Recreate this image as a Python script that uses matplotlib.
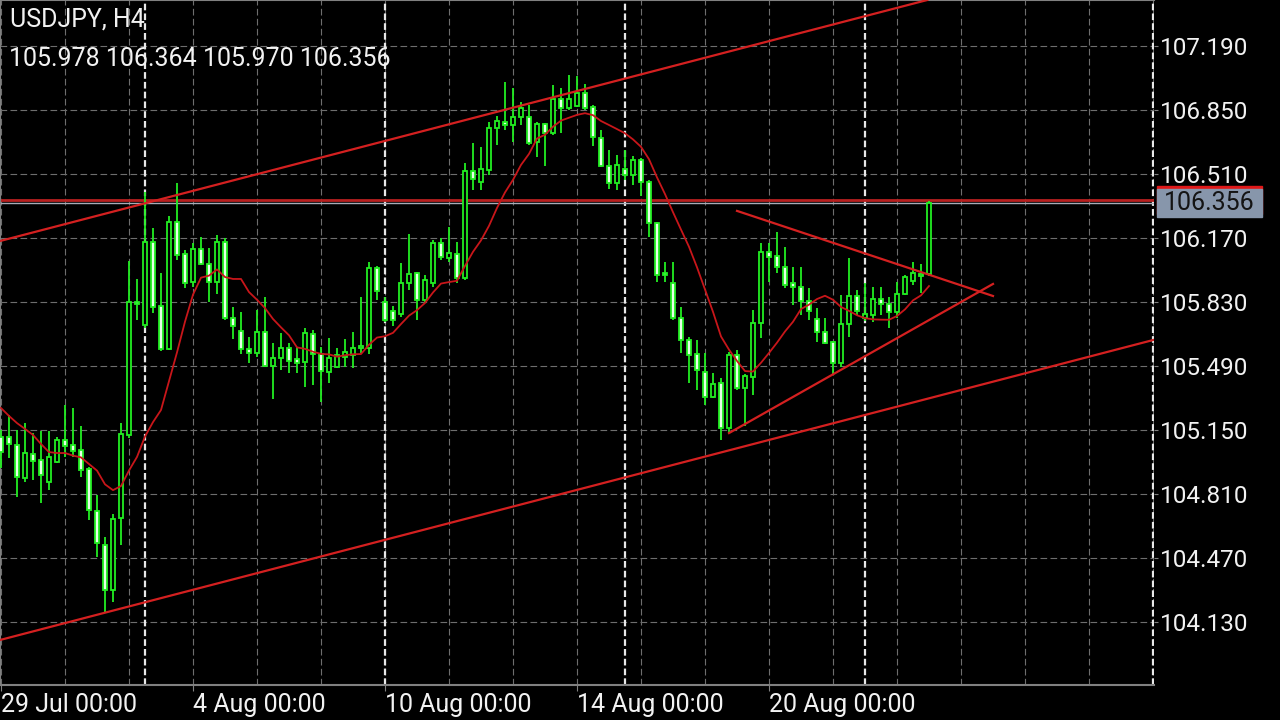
import numpy as np
import pandas as pd
import matplotlib
matplotlib.use('Agg')
import matplotlib.pyplot as plt
from matplotlib.patches import Rectangle
from matplotlib.transforms import blended_transform_factory

plt.rcParams['font.family'] = ['Roboto', 'DejaVu Sans']

#===============================================================================
# Data (USDJPY H4, first bar = 29 Jul 00:00)

symbol = 'USDJPY, H4'

opens = [105.113, 105.113, 105.071, 104.895, 105.023, 104.991, 104.874, 104.980, 105.097, 105.071,
         105.044, 104.943, 104.720, 104.539, 104.300, 104.683, 105.124, 105.830, 105.708, 106.149,
         105.809, 105.581, 106.255, 106.085, 105.937, 106.112, 106.032, 105.937, 106.149, 105.745,
         105.676, 105.581, 105.559, 105.671, 105.490, 105.533, 105.586, 105.527, 105.511, 105.660,
         105.554, 105.458, 105.485, 105.538, 105.549, 105.586, 105.586, 106.011, 105.830, 105.782,
         105.766, 105.931, 105.984, 105.841, 105.931, 106.143, 106.064, 106.085, 105.958, 106.526,
         106.467, 106.531, 106.754, 106.786, 106.770, 106.813, 106.813, 106.680, 106.775, 106.728,
         106.908, 106.861, 106.871, 106.940, 106.866, 106.701, 106.552, 106.462, 106.536, 106.505,
         106.584, 106.467, 106.250, 105.984, 105.931, 105.745, 105.628, 105.554, 105.458, 105.326,
         105.400, 105.161, 105.549, 105.373, 105.432, 105.719, 106.096, 106.074, 106.016, 105.931,
         105.910, 105.836, 105.740, 105.671, 105.618, 105.506, 105.713, 105.862, 105.745, 105.761,
         105.846, 105.820, 105.777, 105.873, 105.942, 105.968, 105.978]
highs = [105.150, 105.230, 105.150, 105.187, 105.134, 105.145, 105.145, 105.113, 105.283, 105.267,
         105.172, 104.954, 104.805, 104.582, 104.704, 105.187, 106.048, 105.952, 106.415, 106.223,
         105.985, 106.287, 106.462, 106.106, 106.143, 106.175, 106.117, 106.186, 106.170, 105.804,
         105.777, 105.645, 105.788, 105.857, 105.612, 105.665, 105.612, 105.591, 105.692, 105.681,
         105.591, 105.639, 105.586, 105.634, 105.671, 105.857, 106.042, 106.021, 105.857, 105.809,
         106.037, 106.191, 105.990, 105.974, 106.159, 106.170, 106.228, 106.149, 106.568, 106.674,
         106.653, 106.786, 106.818, 106.998, 106.966, 106.892, 106.877, 106.786, 106.781, 106.983,
         106.966, 107.036, 107.030, 106.988, 106.877, 106.743, 106.637, 106.611, 106.637, 106.605,
         106.595, 106.478, 106.255, 106.042, 106.042, 105.804, 105.644, 105.628, 105.559, 105.453,
         105.427, 105.565, 105.575, 105.448, 105.788, 106.143, 106.143, 106.202, 106.122, 106.016,
         106.016, 105.905, 105.798, 105.745, 105.623, 105.867, 106.064, 105.894, 105.931, 105.910,
         105.910, 105.857, 105.937, 105.974, 106.042, 106.032, 106.364]
lows = [104.948, 105.002, 104.794, 104.874, 104.885, 104.762, 104.832, 104.975, 105.007, 105.007,
        104.901, 104.672, 104.476, 104.183, 104.236, 104.539, 105.108, 105.735, 105.692, 105.772,
        105.570, 105.575, 106.053, 105.905, 105.910, 106.027, 105.830, 105.873, 105.735, 105.634,
        105.554, 105.506, 105.538, 105.485, 105.315, 105.469, 105.453, 105.453, 105.379, 105.389,
        105.299, 105.400, 105.480, 105.485, 105.480, 105.559, 105.554, 105.841, 105.724, 105.703,
        105.750, 105.894, 105.735, 105.825, 105.910, 106.053, 106.042, 105.931, 105.947, 106.425,
        106.425, 106.505, 106.664, 106.743, 106.680, 106.770, 106.664, 106.600, 106.552, 106.717,
        106.728, 106.850, 106.866, 106.850, 106.658, 106.547, 106.430, 106.425, 106.478, 106.452,
        106.393, 106.176, 105.937, 105.937, 105.735, 105.559, 105.400, 105.363, 105.283, 105.320,
        105.097, 105.134, 105.363, 105.172, 105.336, 105.639, 105.937, 105.984, 105.905, 105.814,
        105.761, 105.735, 105.618, 105.607, 105.442, 105.485, 105.644, 105.761, 105.729, 105.724,
        105.761, 105.692, 105.745, 105.868, 105.921, 105.878, 105.970]
closes = [105.033, 105.076, 104.901, 105.028, 104.986, 104.911, 105.007, 105.097, 105.065, 105.039,
          104.938, 104.725, 104.550, 104.300, 104.677, 105.129, 105.830, 105.820, 106.149, 105.804,
          105.581, 106.255, 106.080, 105.931, 106.112, 106.032, 105.937, 106.149, 105.745, 105.703,
          105.581, 105.559, 105.671, 105.490, 105.533, 105.586, 105.517, 105.506, 105.666, 105.554,
          105.464, 105.533, 105.549, 105.565, 105.586, 105.596, 106.011, 105.889, 105.735, 105.735,
          105.931, 105.979, 105.841, 105.947, 106.143, 106.069, 106.090, 105.958, 106.526, 106.483,
          106.536, 106.754, 106.791, 106.770, 106.813, 106.861, 106.674, 106.775, 106.728, 106.908,
          106.861, 106.908, 106.940, 106.861, 106.706, 106.552, 106.462, 106.558, 106.505, 106.584,
          106.467, 106.250, 105.974, 105.974, 105.745, 105.628, 105.549, 105.469, 105.326, 105.395,
          105.161, 105.549, 105.373, 105.437, 105.719, 106.096, 106.069, 106.016, 105.921, 105.910,
          105.836, 105.783, 105.671, 105.612, 105.506, 105.713, 105.862, 105.783, 105.767, 105.846,
          105.820, 105.777, 105.873, 105.963, 105.984, 105.979, 106.356]

# MA(10) values of the first bars (their earlier closes are off screen)
ma_head = [105.267, 105.225, 105.187, 105.156, 105.124, 105.076, 105.033, 105.028, 105.028]
ma_period = 10

ask = 106.372

price_ticks = [104.130, 104.470, 104.810, 105.150, 105.490, 105.830, 106.170, 106.510, 106.850, 107.190]
date_ticks = [0, 24, 48, 72, 96]
date_labels = ['29 Jul 00:00', '4 Aug 00:00', '10 Aug 00:00', '14 Aug 00:00', '20 Aug 00:00']
week_seps = [18, 48, 78, 108]

# hand drawn trend lines: (bar, price) pairs
channel_top = [(-0.125, 106.154), (114.875, 107.424)]
channel_bottom = [(-0.125, 104.035), (144, 105.628)]
tri_top = [(92, 106.314), (124, 105.862)]
tri_bottom = [(91, 105.134), (124, 105.926)]

#===============================================================================
# Plot

green = '#22ee22'
bear_fill = '#e8ffe8'
grid_c = '#6e6e6e'
red = '#d42020'

o = np.array(opens); h = np.array(highs); l = np.array(lows); c = np.array(closes)
x = np.arange(len(c))

ma = pd.Series(c).rolling(ma_period).mean().values
ma[:ma_period - 1] = ma_head

fig = plt.figure(figsize=(12.8, 7.2), dpi=100, facecolor='black')
ax = fig.add_axes([0, 1 - 685 / 720, 1154 / 1280, 685 / 720])
ax.set_facecolor('black')
ax.set_xlim(-0.125, 144.125)
ax.set_ylim(103.796, 107.434)

# grid
for xg in range(0, 145, 8):
    ax.axvline(xg, color=grid_c, lw=0.8, ls=(0, (6, 3)), zorder=1)
for yt in price_ticks:
    ax.axhline(yt, color=grid_c, lw=0.8, ls=(0, (6, 3)), zorder=1)
for s in week_seps + [144]:
    ax.axvline(s, color='#e8e8e8', lw=1.6, ls=(0, (3, 1.4)), zorder=1)

# bid / ask lines
ax.axhline(ask, color='#b82020', lw=2, zorder=2)
ax.axhline(c[-1], color='#a8acb8', lw=1, zorder=2)

# candles
up = c >= o
bottom = np.minimum(o, c)
height = np.maximum(np.abs(c - o), 0.004)
ax.vlines(x, l, h, color=green, lw=1.3, zorder=3)
ax.bar(x[up], height[up], bottom=bottom[up], width=0.6, color='black',
       edgecolor=green, linewidth=1.3, zorder=4)
ax.bar(x[~up], height[~up], bottom=bottom[~up], width=0.6, color=bear_fill,
       edgecolor=green, linewidth=1.3, zorder=4)

# moving average
ax.plot(x, ma, color='#c8161a', lw=1.3, zorder=5)

# trend lines
ax.axline(channel_top[0], channel_top[1], color=red, lw=1.6, zorder=6)
ax.axline(channel_bottom[0], channel_bottom[1], color=red, lw=1.6, zorder=6)
for seg in (tri_top, tri_bottom):
    ax.plot([seg[0][0], seg[1][0]], [seg[0][1], seg[1][1]], color=red, lw=1.6, zorder=6)

# axes look
for side in ['left', 'bottom', 'top']:
    ax.spines[side].set_color('#808080')
    ax.spines[side].set_linewidth(1.5)
ax.spines['right'].set_visible(False)

ax.yaxis.tick_right()
ax.set_yticks(price_ticks)
ax.set_yticklabels(['%.3f' % v for v in price_ticks])
ax.tick_params(axis='y', colors='#808080', labelcolor='#f2f2f2', length=3, pad=1, labelsize=17.5)
ax.set_xticks(date_ticks)
ax.set_xticklabels(date_labels)
ax.tick_params(axis='x', colors='#808080', labelcolor='#f2f2f2', length=4, pad=2, labelsize=18)
for lbl in ax.get_xticklabels():
    lbl.set_horizontalalignment('left')

# price labels on the right axis
trans = blended_transform_factory(fig.transFigure, ax.transData)
px = (107.434 - 103.796) / 685
ax.add_patch(Rectangle((1157 / 1280, ask - 14 * px), 105 / 1280, 28 * px, transform=trans,
                       color='#e01818', clip_on=False, zorder=10))
ax.add_patch(Rectangle((1157 / 1280, c[-1] - 14 * px), 105 / 1280, 28 * px, transform=trans,
                       color='#8796ab', clip_on=False, zorder=11))
ax.text(1209 / 1280, c[-1], '%.3f' % c[-1], transform=trans, ha='center', va='center',
        color='#141414', fontsize=18, zorder=12, clip_on=False)

# header
fig.text(10 / 1280, 1 - 20 / 720, symbol, color='#f2f2f2', fontsize=18, va='center')
fig.text(9 / 1280, 1 - 59 / 720, '%.3f %.3f %.3f %.3f' % (o[-1], h[-1], l[-1], c[-1]),
         color='#f2f2f2', fontsize=18, va='center')

fig.savefig('out.png', dpi=100, facecolor='black')
